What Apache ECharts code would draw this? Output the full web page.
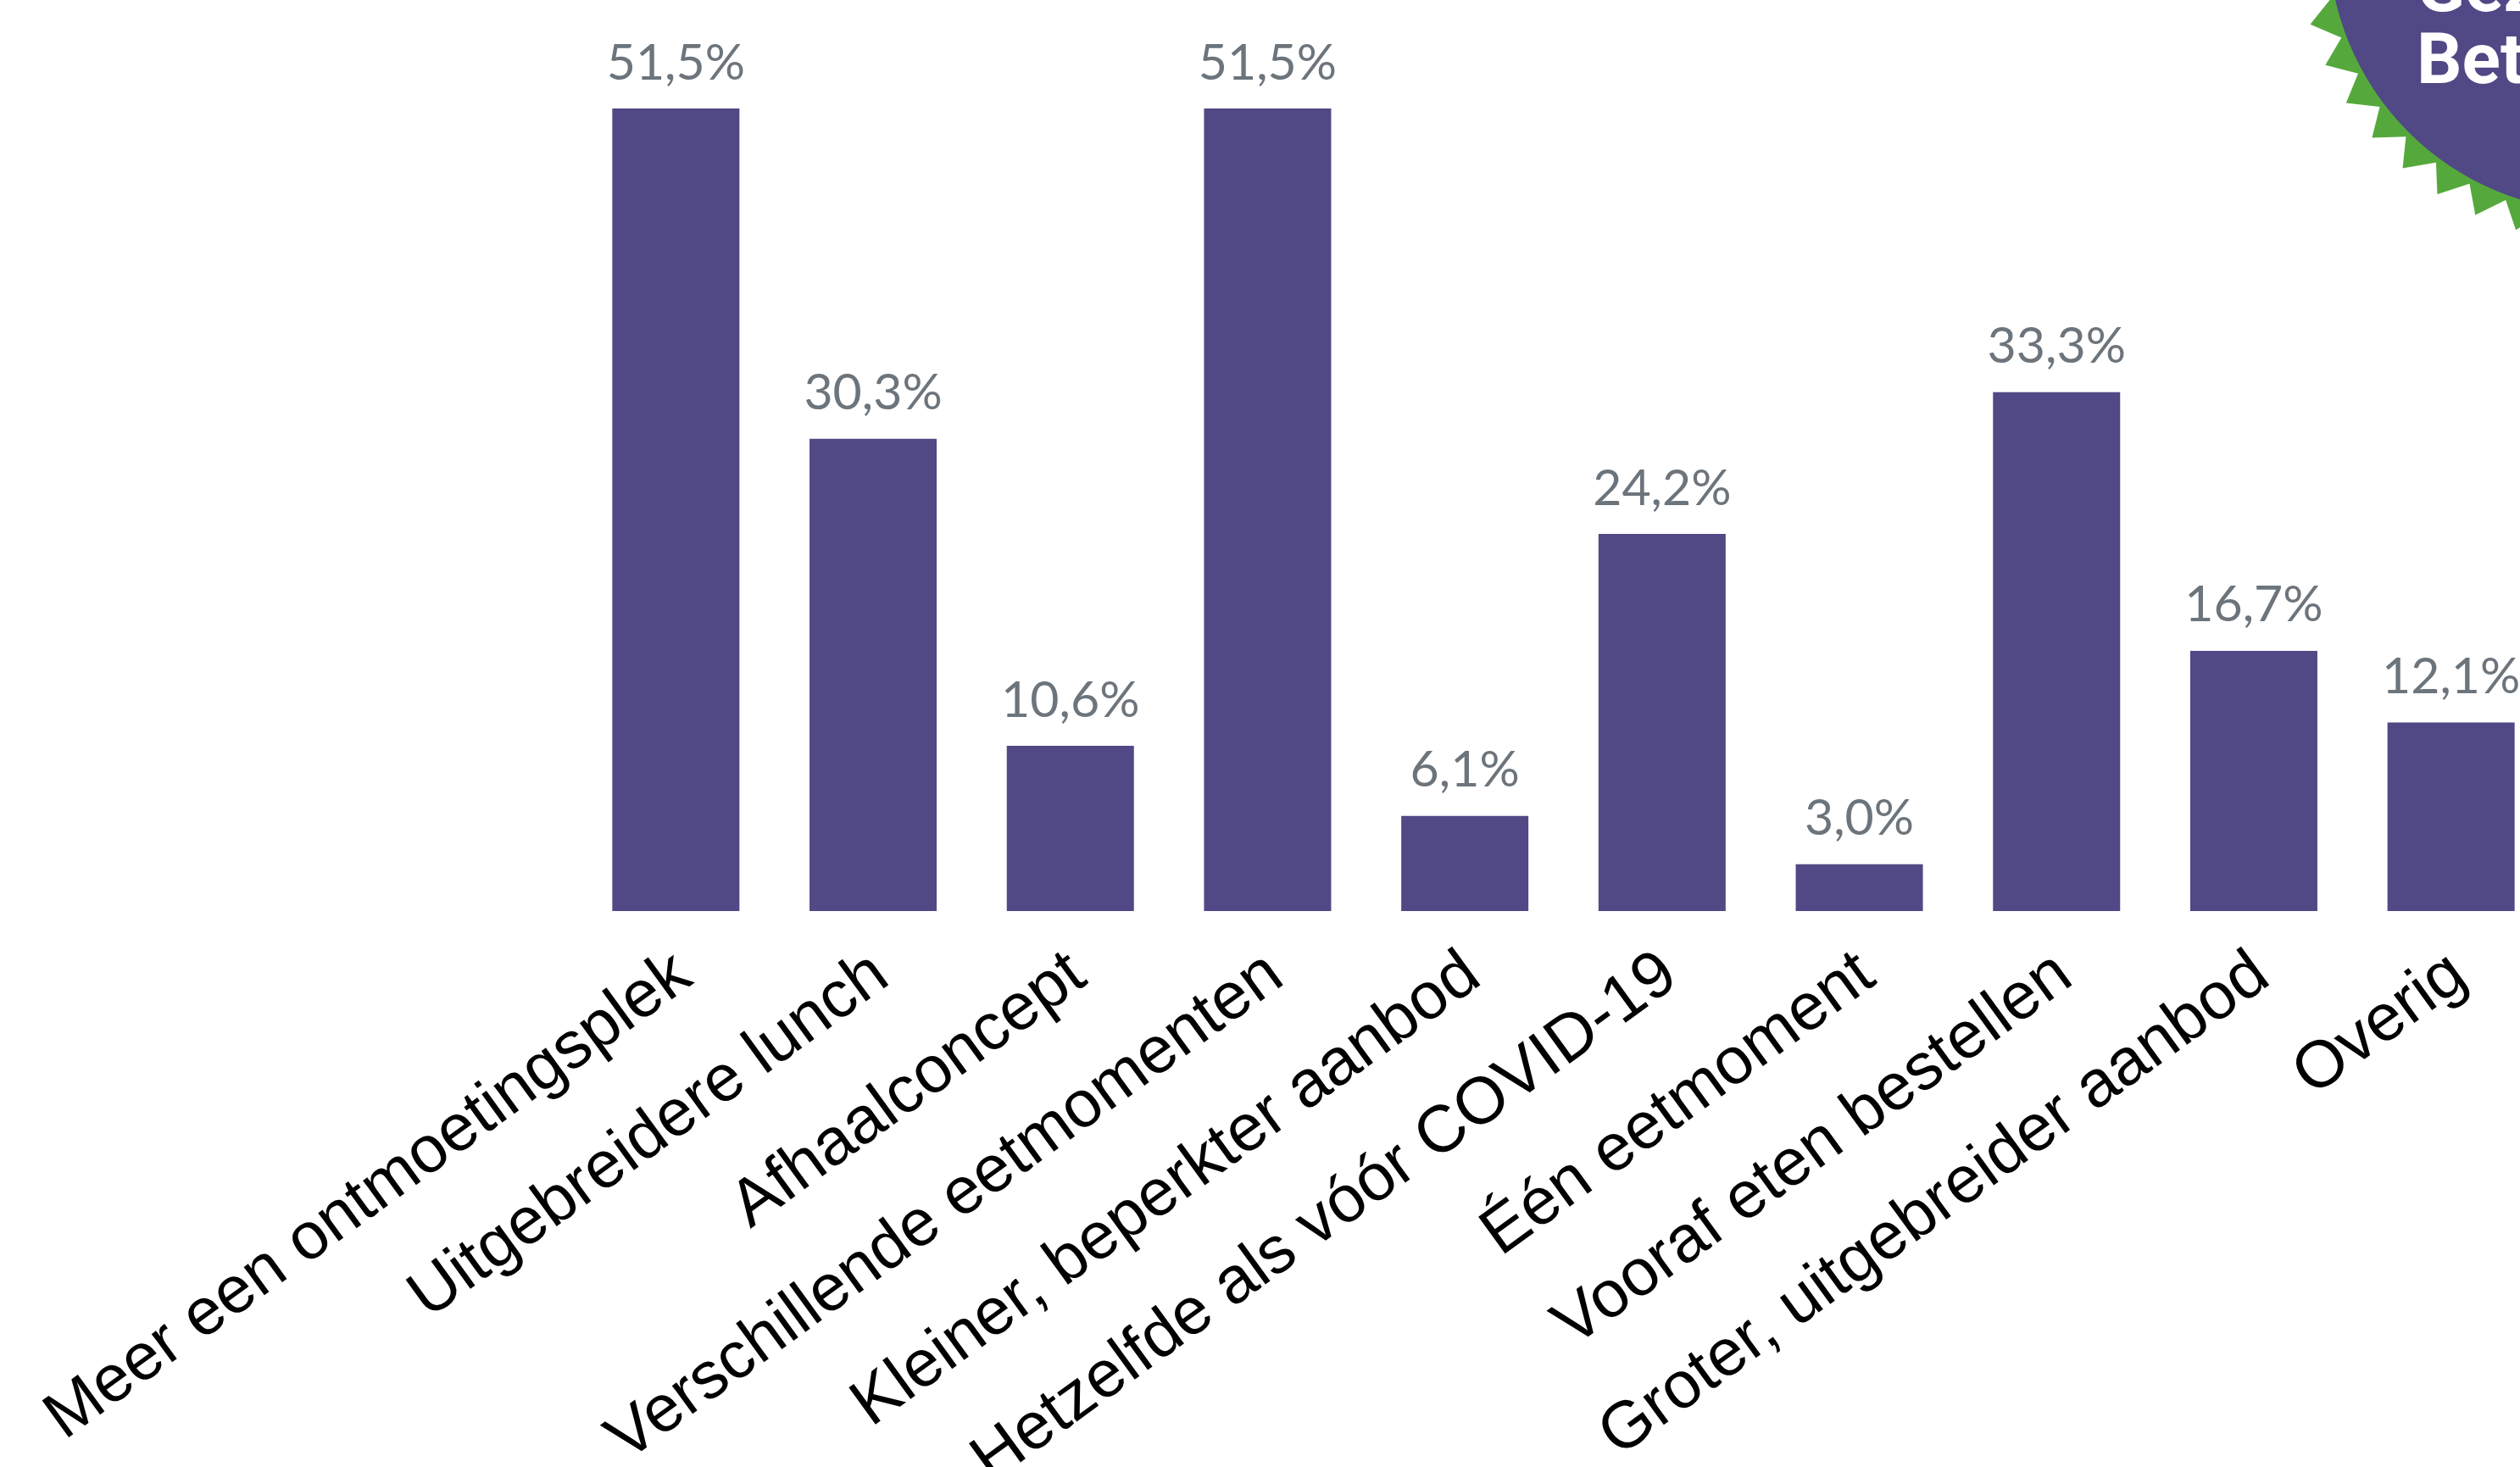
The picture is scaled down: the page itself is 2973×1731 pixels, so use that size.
<!DOCTYPE html>
<html>
<head>
<meta charset="utf-8">
<script src="https://cdn.jsdelivr.net/npm/echarts@6/dist/echarts.min.js"></script>
<style>
html,body{margin:0;padding:0;background:#fff;}
#c{width:2973px;height:1731px;}
</style>
</head>
<body>
<div id="c"></div>
<script>
const categories = [
  'Meer een ontmoetingsplek',
  'Uitgebreidere lunch',
  'Afhaalconcept',
  'Verschillende eetmomenten',
  'Kleiner, beperkter aanbod',
  'Hetzelfde als vóór COVID-19',
  'Één eetmoment',
  'Vooraf eten bestellen',
  'Groter, uitgebreider aanbod',
  'Overig'
];
const values = [51.5, 30.3, 10.6, 51.5, 6.1, 24.2, 3.0, 33.3, 16.7, 12.1];
const badgeLines = ['Gez', 'Bet'];

const PURPLE = '#514886';
const GREEN = '#55a93c';

// badge shape (decoration)
const bcx = 3069, bcy = -72, rIn = 322, rTip = 358, rVal = 328, teeth = 44;
const pts = [];
for (let i = 0; i < teeth; i++) {
  const a = (i / teeth) * Math.PI * 2;
  const a2 = ((i + 0.46) / teeth) * Math.PI * 2;
  pts.push([bcx + rTip * Math.cos(a), bcy + rTip * Math.sin(a)]);
  pts.push([bcx + rVal * Math.cos(a2), bcy + rVal * Math.sin(a2)]);
}

const chart = echarts.init(document.getElementById('c'), null, {renderer: 'canvas'});
chart.setOption({
  animation: false,
  backgroundColor: '#ffffff',
  grid: {left: 681, top: 128, width: 2327, height: 947, containLabel: false, outerBoundsMode: 'none'},
  xAxis: {
    type: 'category',
    data: categories,
    axisLine: {show: false},
    axisTick: {show: false},
    axisLabel: {
      interval: 0,
      rotate: 36,
      margin: 74,
      padding: [0, -12, 0, 0],
      hideOverlap: false,
      color: '#000000',
      fontFamily: 'Liberation Sans, Arial, sans-serif',
      fontSize: 78
    }
  },
  yAxis: {
    type: 'value',
    min: 0,
    max: 51.5,
    show: false,
    splitLine: {show: false}
  },
  series: [{
    type: 'bar',
    data: values,
    barWidth: 150,
    itemStyle: {color: PURPLE},
    label: {
      show: true,
      position: 'top',
      distance: 24,
      color: '#6c747c',
      fontFamily: 'Lato, sans-serif',
      fontSize: 59,
      formatter: p => p.value.toFixed(1).replace('.', ',') + '%'
    }
  }],
  graphic: [
    {type: 'polygon', shape: {points: pts}, style: {fill: GREEN}, z: 10},
    {type: 'circle', shape: {cx: bcx, cy: bcy, r: rIn}, style: {fill: PURPLE}, z: 11},
    {type: 'text', x: 2851, y: -8, z: 12,
     style: {text: badgeLines[0], fill: '#ffffff', font: 'bold 84px Roboto, sans-serif', verticalAlign: 'middle', align: 'left'}},
    {type: 'text', x: 2851, y: 77, z: 12,
     style: {text: badgeLines[1], fill: '#ffffff', font: 'bold 84px Roboto, sans-serif', verticalAlign: 'middle', align: 'left'}}
  ]
});
</script>
</body>
</html>
